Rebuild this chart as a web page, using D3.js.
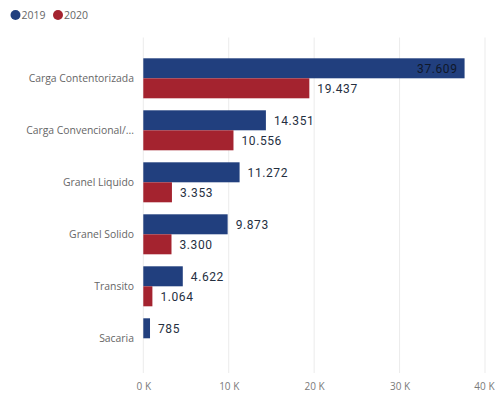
<!DOCTYPE html>
<html>
<head>
<meta charset="utf-8">
<script src="https://cdn.jsdelivr.net/npm/d3@7"></script>
<style>
  html, body { margin: 0; padding: 0; background: #fff; }
  svg { display: block; }
</style>
</head>
<body>
<svg id="chart" width="495" height="396"></svg>
<script>
// Categories and yearly values
const categories = ["Carga Contentorizada", "Carga Convencional/...", "Granel Liquido", "Granel Solido", "Transito", "Sacaria"];
const series = ["2019", "2020"];
const values2019 = [37609, 14351, 11272, 9873, 4622, 785];
const values2020 = [19437, 10556, 3353, 3300, 1064, null];
const xTicks = [0, 10000, 20000, 30000, 40000];
const colors = ["#213F7E", "#A4232F"];

const svg = d3.select("#chart");
const W = 495, H = 396;

const x = d3.scaleLinear().domain([0, 40000]).range([143.3, 485]);
const y = d3.scaleBand().domain(categories).range([52.3, 364.3])
  .paddingInner(0.2308).paddingOuter(0.1154);
const ySub = d3.scaleBand().domain(series).range([0, y.bandwidth()]);

const fmt = v => d3.format(",")(v).replace(/,/g, ".");

// Vertical gridlines
svg.append("g").selectAll("line").data(xTicks).join("line")
  .attr("x1", d => x(d)).attr("x2", d => x(d))
  .attr("y1", 37.5).attr("y2", 373)
  .attr("stroke", "#ebebeb").attr("stroke-width", 1);

// X axis tick labels
const xAxis = d3.axisBottom(x).tickValues(xTicks).tickSize(0).tickPadding(0)
  .tickFormat(d => (d / 1000) + " K");
const gx = svg.append("g").attr("transform", "translate(0,383)").call(xAxis);
gx.select(".domain").remove();
gx.selectAll("text").attr("fill", "#7a7a7a").attr("font-family", "Open Sans")
  .attr("font-size", "10px");
// keep the last tick label inside the frame
gx.selectAll(".tick").each(function (d) {
  const t = d3.select(this).select("text");
  const w = t.node().getComputedTextLength();
  const over = x(d) + w / 2 - (W - 1);
  if (over > 0) t.attr("dx", -over);
});

// Category labels
const yAxis = d3.axisLeft(y).tickSize(0).tickPadding(0);
const gy = svg.append("g").attr("transform", "translate(134,0)").call(yAxis);
gy.select(".domain").remove();
gy.selectAll("text").attr("fill", "#666").attr("font-family", "Open Sans")
  .attr("font-size", "10.4px");

// Bars
const rows = [];
categories.forEach((c, i) => {
  [values2019[i], values2020[i]].forEach((v, j) => {
    if (v != null) rows.push({ cat: c, s: series[j], v, color: colors[j] });
  });
});

const bars = svg.append("g");
bars.selectAll("rect").data(rows).join("rect")
  .attr("x", x(0))
  .attr("y", d => y(d.cat) + ySub(d.s))
  .attr("width", d => x(d.v) - x(0))
  .attr("height", ySub.bandwidth())
  .attr("fill", d => d.color);

// Value labels: inside the bar when it would overflow the plot
const labels = svg.append("g");
labels.selectAll("text").data(rows).join("text")
  .attr("font-family", "Roboto")
  .attr("font-size", "12px")
  .attr("letter-spacing", "0.6px")
  .attr("dominant-baseline", "central")
  .each(function (d) {
    const inside = x(d.v) > 420;
    d3.select(this)
      .attr("x", inside ? x(d.v) - 7 : x(d.v) + 8)
      .attr("text-anchor", inside ? "end" : "start")
      .attr("y", y(d.cat) + ySub(d.s) + ySub.bandwidth() / 2 + 0.5)
      .attr("fill", inside ? "#10182a" : "#252f3f");
  })
  .text(d => fmt(d.v));

// Legend
const legend = svg.append("g");
series.forEach((s, i) => {
  const lx = [15.5, 58][i];
  legend.append("circle").attr("cx", lx).attr("cy", 15).attr("r", 5).attr("fill", colors[i]);
  legend.append("text").attr("x", lx + 6).attr("y", 15)
    .attr("dominant-baseline", "central")
    .attr("font-family", "Open Sans").attr("font-size", "10.5px")
    .attr("fill", "#666").text(s);
});
</script>
</body>
</html>
